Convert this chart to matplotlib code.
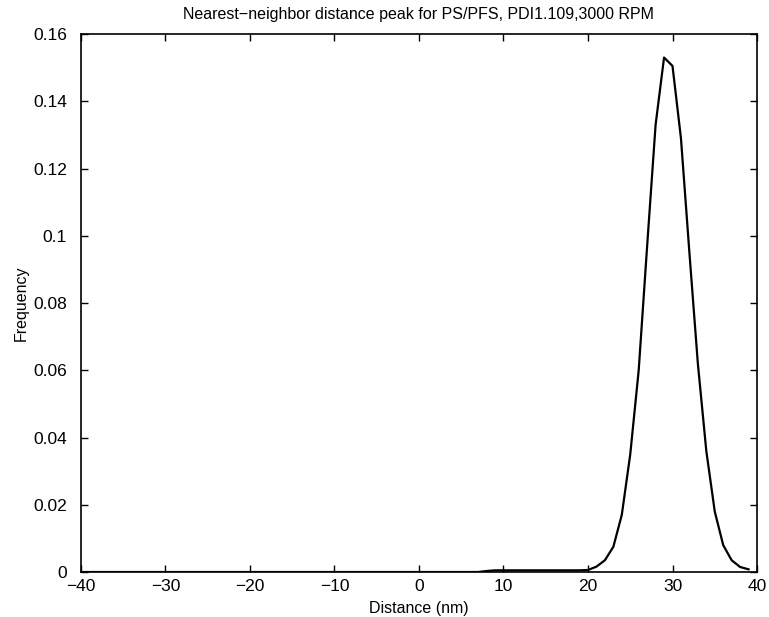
import matplotlib
matplotlib.use("Agg")
import matplotlib.pyplot as plt

plt.rcParams['font.family'] = ['Liberation Sans', 'DejaVu Sans']

# bin centres (nm) and frequencies
distance = [-40, -30, -20, -10, 0, 7,
            8, 9, 10, 11, 12, 13, 14, 15, 16, 17, 18, 19, 20,
            21, 22, 23, 24, 25, 26, 27, 28, 29, 30,
            31, 32, 33, 34, 35, 36, 37, 38, 39]
frequency = [0, 0, 0, 0, 0, 0,
             0.0003, 0.0005, 0.0005, 0.0005, 0.0005, 0.0005, 0.0005, 0.0005,
             0.0005, 0.0005, 0.0005, 0.0005, 0.0006,
             0.0016, 0.0035, 0.0075, 0.017, 0.035, 0.060, 0.097, 0.133, 0.153, 0.1505,
             0.129, 0.095, 0.062, 0.036, 0.018, 0.008, 0.0035, 0.0015, 0.0008]

xticks = [-40, -30, -20, -10, 0, 10, 20, 30, 40]
yticks = [0, 0.02, 0.04, 0.06, 0.08, 0.1, 0.12, 0.14, 0.16]
ytick_labels = ['0', '0.02', '0.04', '0.06', '0.08', '0.1', '0.12', '0.14', '0.16']

fig = plt.figure(figsize=(7.69, 6.17), dpi=100)
ax = fig.add_axes([0.1053, 0.0729, 0.8791, 0.872])

ax.plot(distance, frequency, color='black', linewidth=1.6)

ax.set_xlim(-40, 40)
ax.set_ylim(0, 0.16)
ax.set_xticks(xticks)
ax.set_xticklabels([str(t).replace('-', '\u2212') for t in xticks])
ax.set_yticks(yticks)
ax.set_yticklabels(ytick_labels)
ax.tick_params(direction='in', top=True, right=True, length=5, width=1,
               labelsize=12.5)
ax.tick_params(axis='x', pad=5)
ax.tick_params(axis='y', pad=10)
for s in ax.spines.values():
    s.set_linewidth(1.2)

ax.set_title('Nearest\u2212neighbor distance peak for PS/PFS, PDI1.109,3000 RPM',
             fontsize=11.5, pad=11)
ax.set_xlabel('Distance (nm)', fontsize=11.5, labelpad=5)
ax.set_ylabel('Frequency', fontsize=11.5, labelpad=3)

fig.savefig('out.png', dpi=100)
